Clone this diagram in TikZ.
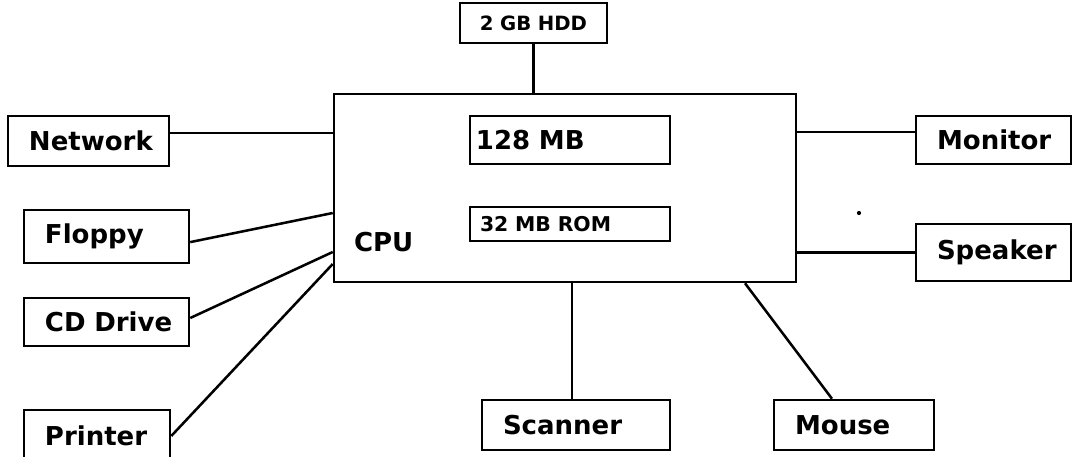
\documentclass[tikz,border=0pt]{standalone}
\usepackage{fontspec}
\setmainfont{DejaVu Sans}
\usepackage{tikz}
\usetikzlibrary{positioning}
\tikzstyle{unit} = [rectangle, draw=black, line width=1.8pt, inner xsep=0pt, inner ysep=0pt, align=left, font=\bfseries\fontsize{18.5}{22}\selectfont]
\tikzstyle{memory} = [unit, font=\bfseries\fontsize{18.5}{22}\selectfont]
\tikzstyle{memory_2} = [unit, font=\bfseries\fontsize{14.5}{17}\selectfont]
\tikzstyle{disk} = [unit, align=center, font=\bfseries\fontsize{14}{16}\selectfont]
\tikzstyle{wire} = [line width=1.8pt]

\begin{document}
\begin{tikzpicture}[node distance=2cm]
\useasboundingbox (-14.125,-6.7) rectangle (12.7,4.7);
%
\node (cpu) [unit, text width=11.55cm, minimum height=4.7cm] {};
\node (cpu_lbl) [anchor=west, inner sep=0pt, font=\bfseries\fontsize{18.5}{22}\selectfont] at ([xshift=5.25mm, yshift=-13.6mm]cpu.west) {CPU};
%
\node (hdd) [disk, text width=3.675cm, minimum height=1cm, above of=cpu, xshift=-0.7875cm, yshift=2.125cm] {2 GB HDD};
\node (mem) [memory, text width=5cm, minimum height=1.2cm, above of=cpu, xshift=0.125cm, yshift=-0.8cm] {\hspace*{1.5mm}128 MB};
\node (rom) [memory_2, text width=5cm, minimum height=0.85cm, below of=mem, yshift=-0.1cm] {\hspace*{2.5mm}32 MB ROM};
%
\node (net) [unit, text width=4.025cm, minimum height=1.25cm, left of=cpu, xshift=-9.9125cm, yshift=1.175cm] {\hspace*{5.25mm}Network};
\node (flop) [unit, text width=4.125cm, minimum height=1.325cm, below of=net, xshift=0.45cm, yshift=-0.3875cm] {\hspace*{5.25mm}Floppy};
\node (cd) [unit, text width=4.125cm, minimum height=1.2cm, below of=flop, yshift=-0.1375cm] {\hspace*{5.25mm}CD Drive};
\node (prn) [unit, text width=3.65cm, minimum height=1.3cm, below of=cd, xshift=-0.2375cm, yshift=-0.85cm] {\hspace*{5.25mm}Printer};
%
\node (mon) [unit, text width=3.875cm, minimum height=1.2cm, right of=cpu, xshift=8.7125cm, yshift=1.2cm] {\hspace*{5.25mm}Monitor};
\node (spk) [unit, text width=3.875cm, minimum height=1.425cm, below of=mon, yshift=-0.8125cm] {\hspace*{5.25mm}Speaker};
\node (scan) [unit, text width=4.7cm, minimum height=1.25cm, below of=cpu, xshift=0.275cm, yshift=-3.925cm] {\hspace*{5.25mm}Scanner};
\node (mouse) [unit, text width=4cm, minimum height=1.25cm, right of=scan, xshift=4.95cm] {\hspace*{5.25mm}Mouse};

%
\draw [wire] (hdd) -- (hdd |- cpu.north);
\draw [wire] ([yshift=2mm]net.east) -- ([yshift=2mm]net.east -| cpu.west);
\draw [wire] ([yshift=-1.4mm]flop.east) -- ([yshift=-6.25mm]cpu.west);
\draw [wire] ([yshift=1mm]cd.east) -- ([yshift=-16mm]cpu.west);
\draw [wire] (prn.east) -- ([yshift=-19mm]cpu.west);
\draw [wire] ([yshift=2mm]mon.west) -- ([yshift=2mm]mon.west -| cpu.east);
\draw [wire] (spk.west) -- (spk.west -| cpu.east);
\draw [wire] ([xshift=-1mm]scan.north) -- ([xshift=-1mm]scan.north |- cpu.south);
\draw [wire] ([xshift=-5.5mm]mouse.north) -- ([xshift=45mm]cpu.south);
\fill (7.35,-0.625) circle (1.5pt);
%
\end{tikzpicture}
\end{document}
